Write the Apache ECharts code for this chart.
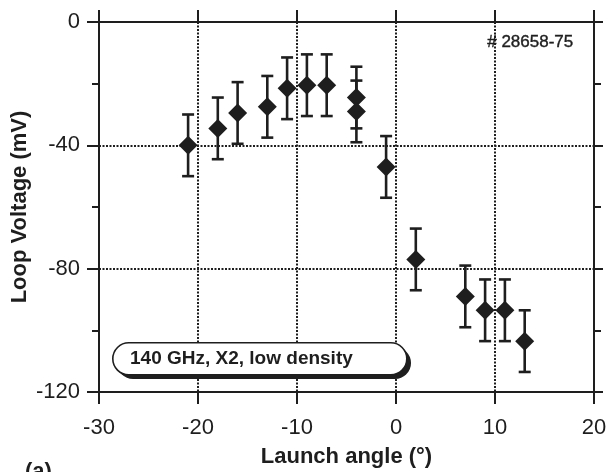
<!DOCTYPE html>
<html>
<head>
<meta charset="utf-8">
<script src="https://cdn.jsdelivr.net/npm/echarts@6/dist/echarts.min.js"></script>
<style>
  html, body { margin: 0; padding: 0; background: #fff; }
  #chart { width: 606px; height: 472px; }
</style>
</head>
<body>
<div id="chart"></div>
<script>
// launch angle (deg) vs loop voltage (mV), error bars +-10
const angles = [-21, -18, -16, -13, -11, -9, -7, -4, -4, -1, 2, 7, 9, 11, 13];
const voltages = [-40, -34.5, -29.5, -27.5, -21.5, -20.5, -20.5, -24.5, -29, -47, -77, -89, -93.5, -93.5, -103.5];
const errors = [10, 10, 10, 10, 10, 10, 10, 10, 10, 10, 10, 10, 10, 10, 10];
const xTicks = [-30, -20, -10, 0, 10, 20];
const yTicks = [-120, -80, -40, 0];

const ink = '#1e1e1e';
const font = 'Liberation Sans, Arial, Helvetica, sans-serif';

const points = angles.map((a, i) => [a, voltages[i]]);
const bars = angles.map((a, i) => [a, voltages[i] - errors[i], voltages[i] + errors[i]]);

const chart = echarts.init(document.getElementById('chart'));

const dots = { color: ink, width: 2, type: [2, 1.5] };

const baseX = {
    type: 'value',
    min: xTicks[0],
    max: xTicks[xTicks.length - 1],
    interval: 10,
    axisLine: { show: true, onZero: false, lineStyle: { color: ink, width: 2 } },
    axisTick: { show: true, length: 12, lineStyle: { color: ink, width: 2 } },
};
const baseY = {
    type: 'value',
    min: yTicks[0],
    max: yTicks[yTicks.length - 1],
    interval: 40,
    axisLine: { show: true, onZero: false, lineStyle: { color: ink, width: 2 } },
    axisTick: { show: true, length: 12, lineStyle: { color: ink, width: 2 } },
    minorTick: { show: true, splitNumber: 2, length: 7, lineStyle: { color: ink, width: 2 } },
};

chart.setOption({
    backgroundColor: '#fff',
    animation: false,
    grid: { left: 99, right: 12, top: 22, bottom: 80, containLabel: false, outerBoundsMode: 'none' },
    xAxis: [
        Object.assign({}, baseX, {
            position: 'bottom',
            name: 'Launch angle (°)',
            nameLocation: 'middle',
            nameGap: 54,
            nameMoveOverlap: false,
            nameTextStyle: { fontFamily: font, fontSize: 22, fontWeight: 'bold', color: ink },
            axisLabel: { fontFamily: font, fontSize: 22, color: ink, margin: 25 },
            splitLine: { show: true, lineStyle: dots },
        }),
        Object.assign({}, baseX, {
            position: 'top',
            axisLabel: { show: false },
            splitLine: { show: false },
        })
    ],
    yAxis: [
        Object.assign({}, baseY, {
            position: 'left',
            name: 'Loop Voltage (mV)',
            nameLocation: 'middle',
            nameGap: 68,
            nameMoveOverlap: false,
            nameTextStyle: { fontFamily: font, fontSize: 22, fontWeight: 'bold', color: ink },
            axisLabel: { fontFamily: font, fontSize: 22, color: ink, margin: 19 },
            splitLine: { show: true, lineStyle: dots },
        }),
        Object.assign({}, baseY, {
            position: 'right',
            axisTick: { show: true, length: 9, lineStyle: { color: ink, width: 2 } },
            minorTick: { show: true, splitNumber: 2, length: 7, lineStyle: { color: ink, width: 2 } },
            axisLabel: { show: false },
            splitLine: { show: false },
        })
    ],
    graphic: [
        // label capsule with its shadow
        { type: 'rect', left: 117, top: 347, shape: { width: 294, height: 32, r: 16 },
          style: { fill: ink }, z: 100 },
        { type: 'rect', left: 112, top: 342, shape: { width: 294, height: 32, r: 16 },
          style: { fill: '#fff', stroke: ink, lineWidth: 1.6 }, z: 101 },
        { type: 'text', left: 130, top: 349, z: 102,
          style: { text: '140 GHz, X2, low density', fontFamily: font, fontSize: 19, fontWeight: 'bold', fill: ink } },
        { type: 'text', left: 487, top: 34, z: 102,
          style: { text: '# 28658-75', fontFamily: font, fontSize: 17, fill: ink, stroke: ink, lineWidth: 0.4 } },
        { type: 'text', left: 25, top: 461, z: 102,
          style: { text: '(a)', fontFamily: font, fontSize: 22, fontWeight: 'bold', fill: ink } }
    ],
    series: [
        {
            type: 'custom',
            name: 'error',
            data: bars,
            z: 3,
            renderItem: function (params, api) {
                const x = api.value(0);
                const lo = api.coord([x, api.value(1)]);
                const hi = api.coord([x, api.value(2)]);
                const cap = 6;
                const st = { stroke: ink, lineWidth: 2.6 };
                return {
                    type: 'group',
                    children: [
                        { type: 'line', shape: { x1: lo[0], y1: lo[1], x2: hi[0], y2: hi[1] }, style: st },
                        { type: 'line', shape: { x1: lo[0] - cap, y1: lo[1], x2: lo[0] + cap, y2: lo[1] }, style: st },
                        { type: 'line', shape: { x1: hi[0] - cap, y1: hi[1], x2: hi[0] + cap, y2: hi[1] }, style: st }
                    ]
                };
            }
        },
        {
            type: 'scatter',
            name: 'loop voltage',
            data: points,
            symbol: 'diamond',
            symbolSize: [19, 19],
            z: 4,
            itemStyle: { color: ink, opacity: 1 }
        }
    ]
});
</script>
</body>
</html>
